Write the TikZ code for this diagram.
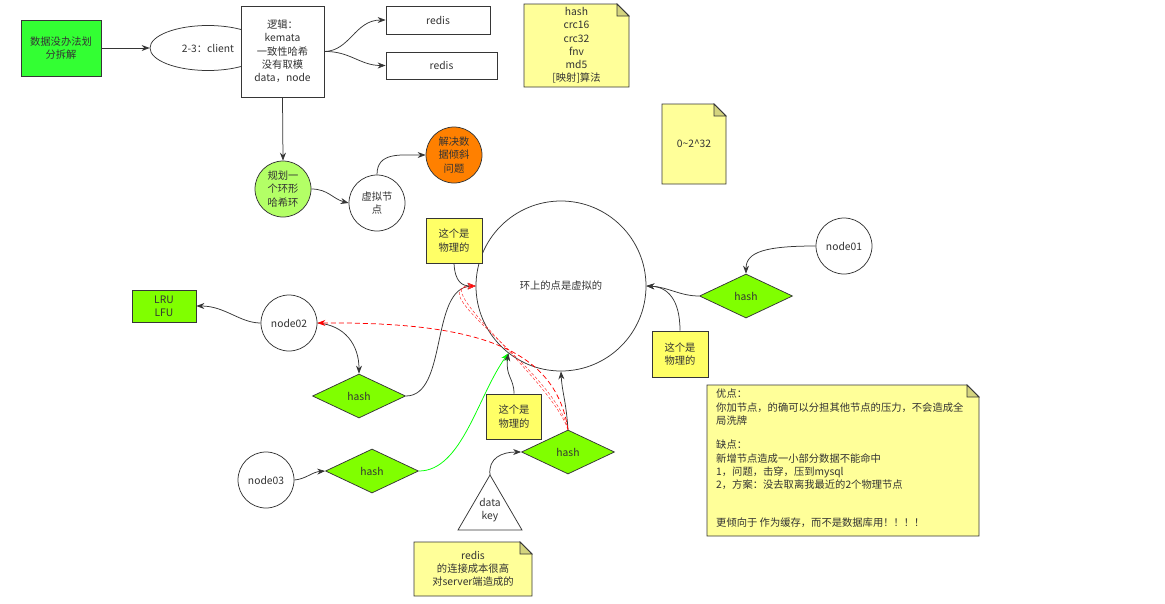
\documentclass[tikz,border=0pt]{standalone}
\usepackage{fontspec}
\setmainfont{Noto Sans CJK SC}
\usetikzlibrary{shapes.geometric,arrows.meta}
\definecolor{strokec}{HTML}{363636}
\definecolor{txtc}{HTML}{333333}
\definecolor{brightgreen}{HTML}{33FF33}
\definecolor{lightgreen}{HTML}{B3FF66}
\definecolor{orangefill}{HTML}{FF8000}
\definecolor{hashgreen}{HTML}{80FF00}
\definecolor{yellowfill}{HTML}{FFFF66}
\definecolor{notefill}{HTML}{FFFF99}
\definecolor{foldfill}{HTML}{D4D47E}
\definecolor{greenline}{HTML}{00FF00}
\definecolor{redline}{HTML}{FF0000}
\newcommand\mynote[4]{%
  \filldraw[draw=strokec,fill=notefill,line width=0.75pt] (#1,#2) -- ({#3-12},#2) -- (#3,{#2+12}) -- (#3,#4) -- (#1,#4) -- cycle;
  \filldraw[draw=strokec,fill=foldfill,line width=0.75pt] ({#3-12},#2) -- ({#3-12},{#2+12}) -- (#3,{#2+12}) -- cycle;}
\begin{document}
\begin{tikzpicture}[x=1pt,y=-1pt,
  font=\fontsize{10.3}{13.3}\selectfont,
  every node/.style={text=txtc},
  box/.style={draw=strokec,line width=0.75pt,inner sep=0pt,align=center},
  circ/.style={circle,draw=strokec,line width=0.75pt,minimum size=56pt,inner sep=0pt,align=center,fill=white},
  dia/.style={diamond,draw=strokec,line width=0.75pt,fill=hashgreen,minimum width=93pt,minimum height=44pt,inner sep=0pt},
  notetext/.style={inner sep=0pt,align=center},
  conn/.style={draw=strokec,line width=0.75pt,-{Stealth[length=8pt,width=6pt]}},
  rdash/.style={draw=redline,line width=0.75pt,dash pattern=on 5pt off 3pt,-{Stealth[length=8pt,width=6pt]}},
  rdashthin/.style={draw=redline!80,line width=0.5pt,dash pattern=on 3pt off 2pt,-{Stealth[length=8pt,width=6pt,fill=redline]}},
  gline/.style={draw=greenline,line width=0.75pt,-{Stealth[length=8pt,width=6pt]}}]
\useasboundingbox (0,0) rectangle (1165,603);

% top row
\node[box,fill=brightgreen,minimum width=80pt,minimum height=56pt] (g1) at (61,48) {数据没办法划\\分拆解};
\node[ellipse,draw=strokec,line width=0.75pt,minimum width=116pt,minimum height=45pt,inner sep=0pt] (cl) at (208,48) {};
\node[box,fill=white,minimum width=83pt,minimum height=91pt] (logic) at (282.5,51.5) {逻辑：\\kemata\\一致性哈希\\没有取模\\data，node};
\node[inner sep=0pt] (cltext) at (208,48) {2-3：client};
\node[box,fill=white,minimum width=104pt,minimum height=28pt] (r1) at (438,20) {redis};
\node[box,fill=white,minimum width=111pt,minimum height=27pt] (r2) at (441.5,65.5) {redis};

\draw[conn] (g1.east) -- (cl.west);
\draw[conn] (logic.east) .. controls (350,51) and (355,20) .. (r1.west);
\draw[conn] (logic.east) .. controls (350,51) and (360,65.5) .. (r2.west);

% notes
\mynote{524}{4}{629}{87}
\node[notetext] (nhash) at (576.5,45.5) {hash\\crc16\\crc32\\fnv\\md5\\\mbox{[映射]算法}};
\mynote{662}{104}{726}{184}
\node[notetext] (nrange) at (694,144) {0\textasciitilde 2\textasciicircum 32};

% ring planning
\node[circ,fill=lightgreen] (ring1) at (283,189) {规划一\\个环形\\哈希环};
\node[circ] (vn) at (377,203) {虚拟节\\点};
\node[circ,fill=orangefill] (orng) at (454,155) {解决数\\据倾斜\\问题};
\draw[conn] (logic.south) -- (ring1.north);
\draw[conn] (ring1.east) .. controls (328,189) and (333,199) .. (vn.west);
\draw[conn] (vn.north) .. controls (377,152) and (400,155) .. (orng.west);

% big ring
\node[circle,draw=strokec,line width=0.75pt,minimum size=170pt,inner sep=0pt] (ring) at (561,286) {环上的点是虚拟的};

% physical labels
\node[box,fill=yellowfill,minimum width=56pt,minimum height=45pt] (p1) at (454,240.5) {这个是\\物理的};
\node[box,fill=yellowfill,minimum width=56pt,minimum height=46pt] (p2) at (680,354) {这个是\\物理的};
\node[box,fill=yellowfill,minimum width=55pt,minimum height=45pt] (p3) at (514,416.5) {这个是\\物理的};

% nodes
\node[circ] (n1) at (844,246) {node01};
\node[circ] (n2) at (289,323) {node02};
\node[circ] (n3) at (266,480) {node03};
\node[box,fill=hashgreen,minimum width=64pt,minimum height=32pt] (lru) at (164,306) {LRU\\LFU};

\node[dia] (h1) at (746,296) {hash};
\node[dia] (h2) at (359,396) {hash};
\node[dia] (h3) at (372,471) {hash};
\node[dia] (h4) at (568,452) {hash};

% data key triangle
\draw[draw=strokec,line width=0.75pt,fill=white] (458,530) -- (490,475) -- (522,530) -- cycle;
\coordinate (tri) at (490,475);
\node[notetext] (dk) at (490,510) {data\\key};

% notes bottom
\mynote{414}{542}{532}{596}
\node[notetext] (nredis) at (473,569) {redis\\的连接成本很高\\对server端造成的};
\mynote{707}{385}{979}{536}
\node[inner sep=0pt,align=left,anchor=north west] (nbig) at (716,389) {优点：\\你加节点，的确可以分担其他节点的压力，不会造成全\\局洗牌\\[11pt]缺点：\\新增节点造成一小部分数据不能命中\\1，问题，击穿，压到mysql\\2，方案：没去取离我最近的2个物理节点\\[25pt]更倾向于 作为缓存，而不是数据库用！！！！};

% connectors
\draw[conn] (n1.west) .. controls (765,246) and (746,252) .. (h1.north);
\draw[conn] (h1.west) .. controls (680,296) and (668,287) .. (ring.east);
\draw[conn] (p2.north) .. controls (680,300) and (668,287) .. (ring.east);
\draw[conn] (n2.west) .. controls (240,323) and (225,306) .. (lru.east);
\draw[conn] (n2.east) .. controls (345,325) and (359,345) .. (h2.north);
\draw[conn] (h2.east) .. controls (448,396) and (430,288) .. (ring.west);
\draw[conn] (p1.south) .. controls (455,282) and (462,286) .. (ring.west);
\draw[conn] (n3.east) .. controls (306,479) and (312,472) .. (h3.west);
\draw[gline] (h3.east) .. controls (462,471) and (478,395) .. (ring.232);
\draw[conn] (p3.north) .. controls (514,378) and (505,376) .. (ring.232);
\draw[conn] (tri) .. controls (488,458) and (502,452) .. (h4.west);
\draw[conn] (h4.north) .. controls (566,400) and (562,392) .. (ring.south);
\draw[rdashthin] (h4.north) .. controls (555,370) and (420,290) .. (ring.west);
\draw[rdashthin] (h4.north) .. controls (550,378) and (428,284) .. (ring.west);
\draw[rdash] (h4.north) .. controls (555,345) and (470,322) .. (n2.east);
\end{tikzpicture}
\end{document}
